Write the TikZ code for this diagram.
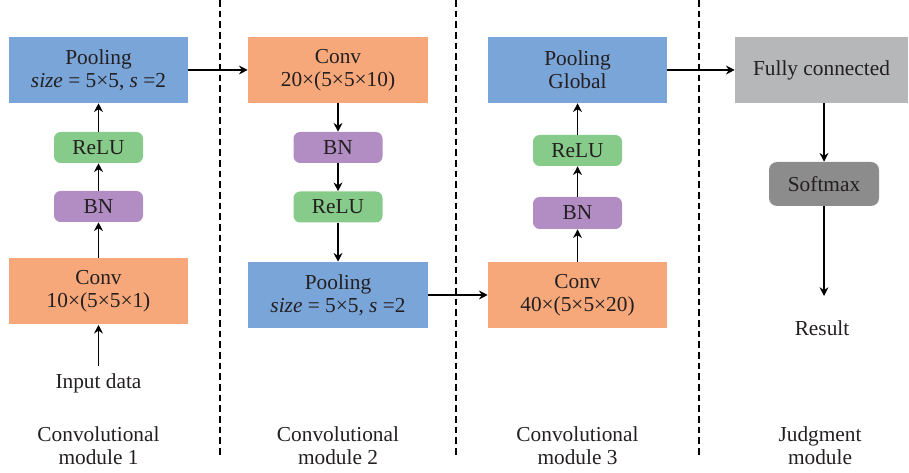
\documentclass[tikz,border=0pt]{standalone}
\usepackage{fontspec}
\setmainfont{Liberation Serif}
\usetikzlibrary{arrows.meta}
\definecolor{cblue}{RGB}{122,165,216}
\definecolor{corange}{RGB}{246,168,122}
\definecolor{cgreen}{RGB}{134,203,138}
\definecolor{cpurple}{RGB}{177,141,196}
\definecolor{clgray}{RGB}{181,183,185}
\definecolor{cdgray}{RGB}{140,140,140}
\definecolor{ctext}{RGB}{35,31,32}
\tikzset{
  txt/.style={text=ctext, font=\fontsize{16}{17.5}\selectfont, align=center, inner sep=0pt},
  bigbox/.style={txt, minimum width=134.25pt, minimum height=49.5pt},
  smallbox/.style={txt, minimum width=66.75pt, minimum height=23.25pt, rounded corners=5pt},
  arr/.style={-{Stealth[length=6.5pt,width=6.5pt]}, line width=1pt, black},
  sep/.style={line width=0.8pt, dash pattern=on 5pt off 3pt, black}
}
\begin{document}
\begin{tikzpicture}[x=0.75pt,y=-0.75pt]
\useasboundingbox (0,0) rectangle (909,473);
% separators
\coordinate (d1t) at (220,0); \coordinate (d1b) at (220,457);
\coordinate (d2t) at (456,0); \coordinate (d2b) at (456,457);
\coordinate (d3t) at (699,0); \coordinate (d3b) at (699,457);
\draw[sep] (d1t) -- (d1b);
\draw[sep] (d2t) -- (d2b);
\draw[sep] (d3t) -- (d3b);
% column 1
\node[bigbox, fill=cblue] (p1) at (98.5,70) {Pooling\\\textit{size} = 5×5, \textit{s} =2};
\node[smallbox, fill=cgreen] (r1) at (98.5,147.5) {ReLU};
\node[smallbox, fill=cpurple] (b1) at (98.5,206.5) {BN};
\node[bigbox, fill=corange] (c1) at (98.5,291.5) {Conv\\10×(5×5×1)};
\node[txt] (in) at (98.5,383) {Input data};
\node[txt] (m1) at (98.5,446) {Convolutional\\module 1};
\coordinate (inTop) at (98.5,366);
\draw[arr] (inTop) -- (c1);
\draw[arr] (c1) -- (b1);
\draw[arr] (b1) -- (r1);
\draw[arr] (r1) -- (p1);
% column 2
\node[bigbox, fill=corange, minimum width=135pt] (c2) at (338,70) {Conv\\20×(5×5×10)};
\node[smallbox, fill=cpurple] (b2) at (338,147.5) {BN};
\node[smallbox, fill=cgreen] (r2) at (338,207) {ReLU};
\node[bigbox, fill=cblue, minimum width=135pt] (po2) at (338,295) {Pooling\\\textit{size} = 5×5, \textit{s} =2};
\node[txt] (m2) at (338,446) {Convolutional\\module 2};
\draw[arr] (p1) -- (c2);
\draw[arr] (c2) -- (b2);
\draw[arr] (b2) -- (r2);
\draw[arr] (r2) -- (po2);
% column 3
\node[bigbox, fill=corange] (c3) at (577.5,295) {Conv\\40×(5×5×20)};
\node[smallbox, fill=cpurple, minimum height=24pt] (b3) at (577.5,213) {BN};
\node[smallbox, fill=cgreen] (r3) at (577.5,150.5) {ReLU};
\node[bigbox, fill=cblue] (pg) at (577.5,70) {Pooling\\Global};
\node[txt] (m3) at (577.5,446) {Convolutional\\module 3};
\draw[arr] (po2) -- (c3);
\draw[arr] (c3) -- (b3);
\draw[arr] (b3) -- (r3);
\draw[arr] (r3) -- (pg);
% column 4
\node[bigbox, fill=clgray, minimum width=129.75pt] (fc) at (821.5,70) {Fully connected};
\node[txt, fill=cdgray, minimum width=82.5pt, minimum height=33pt, rounded corners=6pt] (sm) at (824,184) {Softmax};
\node[txt] (res) at (822,328) {Result};
\node[txt] (m4) at (820,446) {Judgment\\module};
\coordinate (resTop) at (824,296);
\draw[arr] (pg) -- (fc);
\draw[arr] (sm.north |- fc.south) -- (sm.north);
\draw[arr] (sm.south) -- (resTop);
\end{tikzpicture}
\end{document}
